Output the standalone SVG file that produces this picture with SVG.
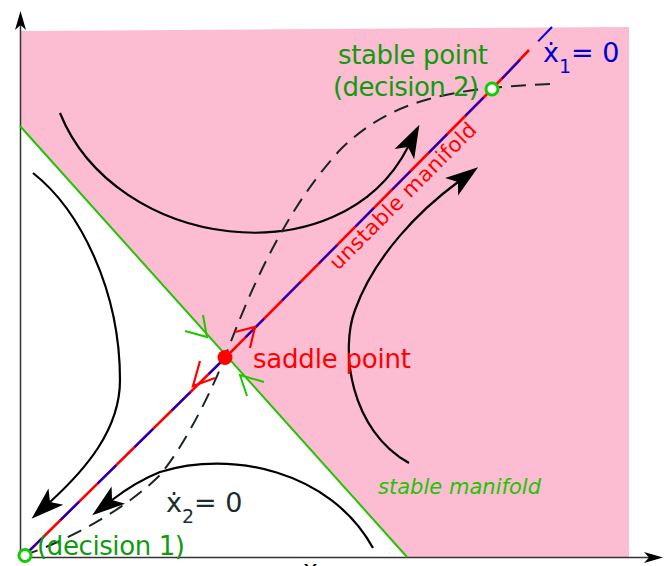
<svg xmlns="http://www.w3.org/2000/svg" width="667" height="566" viewBox="0 0 667 566">
<style>
.traj{fill:none;stroke:#000;stroke-width:2.2}
.axis{fill:none;stroke:#333;stroke-width:1.5}
.lbl{font-family:"DejaVu Sans",sans-serif}
.chevR{fill:none;stroke:#ff0000;stroke-width:2.2}
.chevG{fill:none;stroke:#22c400;stroke-width:2}
.stpt{fill:#fff;stroke:#11cc00;stroke-width:3}
</style>
<defs>
<marker id="ah" markerUnits="userSpaceOnUse" orient="auto" refX="8" refY="0" markerWidth="40" markerHeight="30" overflow="visible">
<path d="M0 -11 L33 0 L0 11 L8 0 Z" fill="#000"/>
</marker>
<marker id="axh" markerUnits="userSpaceOnUse" orient="auto" refX="5" refY="0" markerWidth="24" markerHeight="14" overflow="visible">
<path d="M0 -5.5 L19 0 L0 5.5 L5 0 Z" fill="#000"/>
</marker>
</defs>
<g id="region">
<polygon points="20,31 629,27 629,557 407,557 20,126" fill="#fcbcd1"/>
</g>
<g id="axes">
<path class="axis" d="M20.5 558 L20.5 25" marker-end="url(#axh)"/>
<path class="axis" d="M20 557.5 L649 557.5" marker-end="url(#axh)"/>
</g>
<g id="connectors">
<path class="traj" d="M60 113 C115 250 340 280 408 147" marker-end="url(#ah)"/>
<path class="traj" d="M409 463 C350 430 340 350 355 310 C375 255 420 210 458 182" marker-end="url(#ah)"/>
<path class="traj" d="M33 173 C80 210 120 290 120 380 C120 430 85 470 50 502" marker-end="url(#ah)"/>
<path class="traj" d="M373 548 C330 470 230 450 160 472 C140 480 125 490 112 500" marker-end="url(#ah)"/>
<path d="M550 84 C450 88 390 100 340 150 C285 210 250 290 225 357 C212 390 185 445 160 475 C130 505 80 535 28 554" fill="none" stroke="#1a2626" stroke-width="2" stroke-dasharray="15 9"/>
<path id="stable-manifold" d="M20 126 L407 557" fill="none" stroke="#22c400" stroke-width="2"/>
<path id="unstable-manifold" d="M25 555 L225 358 L492 89 L529 50" fill="none" stroke="#ff0000" stroke-width="2.6"/>
<path id="x1-nullcline" d="M25 555 L225 358 L492 89 L552 27" fill="none" stroke="#0000dd" stroke-width="2" stroke-dasharray="26 26" stroke-dashoffset="2"/>
<polyline class="chevR" points="235,332 255,327 250,348"/>
<polyline class="chevR" points="200,361 193,386 215,378"/>
<polyline class="chevG" points="185,331 207,337 203,315"/>
<polyline class="chevG" points="247,396 240,375 264,382"/>
</g>
<g id="saddle">
<circle cx="225" cy="357.5" r="7.5" fill="#ff0000"/>
<text class="lbl" x="253" y="368" font-size="26" fill="#ff0000" textLength="158" lengthAdjust="spacing">saddle point</text>
</g>
<g id="stable-point-2">
<circle class="stpt" cx="492" cy="89" r="6"/>
<text class="lbl" x="338" y="64" font-size="26" fill="#0f9a0f" textLength="150" lengthAdjust="spacing">stable point</text>
<text class="lbl" x="333" y="96" font-size="26" fill="#0f9a0f" textLength="146" lengthAdjust="spacing">(decision 2)</text>
</g>
<g id="stable-point-1">
<circle class="stpt" cx="25" cy="555.5" r="6"/>
<text class="lbl" x="37" y="555" font-size="26" fill="#0f9a0f" textLength="148" lengthAdjust="spacing">(decision 1)</text>
</g>
<g id="labels">
<text class="lbl" x="338" y="271" font-size="21" fill="#ff0000" transform="rotate(-45 338 271)" textLength="198" lengthAdjust="spacing">unstable manifold</text>
<text class="lbl" x="378" y="494" font-size="21" font-style="italic" fill="#22c400" textLength="163" lengthAdjust="spacing">stable manifold</text>
<text class="lbl" x="543" y="62" font-size="27" fill="#0000cc">ẋ<tspan font-size="19" dy="11">1</tspan><tspan dy="-11">= 0</tspan></text>
<text class="lbl" x="166" y="512" font-size="27" fill="#1a2e2e">ẋ<tspan font-size="19" dy="11">2</tspan><tspan dy="-11">= 0</tspan></text>
<text class="lbl" x="303" y="578" font-size="25" fill="#000">x</text>
</g>
</svg>
